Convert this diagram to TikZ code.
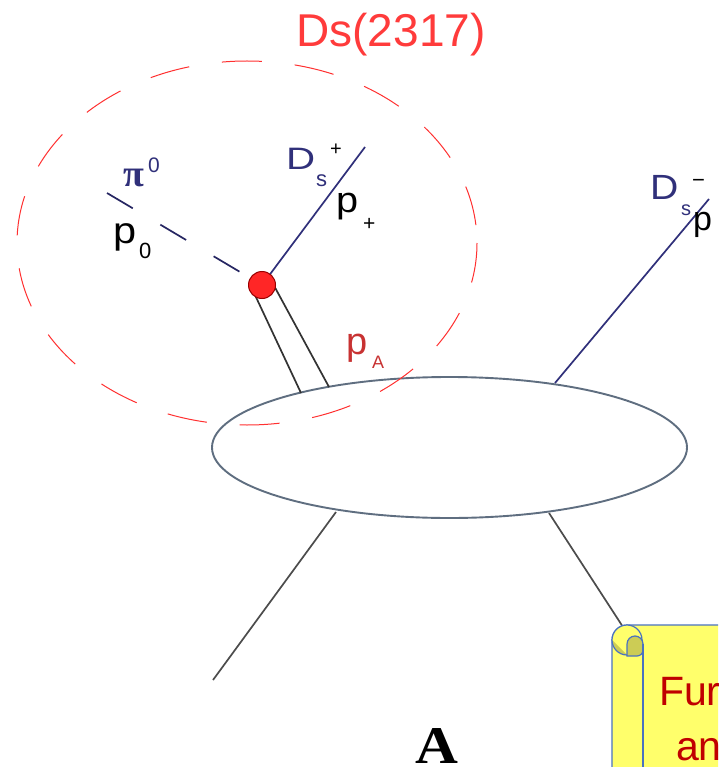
\documentclass[tikz,border=0pt]{standalone}
\usepackage{fontspec}
\usepackage{graphicx}
\setmainfont{Liberation Sans}
\newfontfamily\serifb{Liberation Serif}
\usetikzlibrary{shapes.geometric}
\definecolor{navy}{HTML}{30307A}
\definecolor{titlered}{HTML}{FF3B3B}
\definecolor{dashred}{HTML}{FF3030}
\definecolor{pared}{HTML}{C83232}
\definecolor{blobline}{HTML}{5F6E80}
\definecolor{scrollyellow}{HTML}{FFFF6B}
\definecolor{scrollolive}{HTML}{CCCC55}
\definecolor{scrollblue}{HTML}{4A72C0}
\definecolor{furred}{HTML}{C00000}
\tikzset{
  lbl/.style={anchor=base west, inner sep=0pt, outer sep=0pt},
  fs/.style={font=\fontsize{#1}{#1}\selectfont},
  track/.style={draw=#1, line width=1.7pt},
  blobstyle/.style={ellipse, draw=blobline, line width=1.9pt, fill=white, inner sep=0pt},
  vertex/.style={circle, fill=red!85!white, draw=red!60!black, line width=1pt, minimum size=27pt, inner sep=0pt},
  scrollline/.style={draw=scrollblue, line width=1.2pt}
}
\begin{document}
\begin{tikzpicture}[x=1pt,y=-1pt]
\useasboundingbox (0,0) rectangle (718,767);
\clip (0,0) rectangle (718,767);
\fill[white] (0,0) rectangle (718,767);

% central blob
\node[blobstyle, minimum width=475pt, minimum height=141pt] (blob) at (449.5,447.5) {};

% coordinates
\coordinate (dotc) at (262,285);
\coordinate (pi0end) at (107,193);
\coordinate (dsplusend) at (365,147);
\coordinate (dsminusend) at (709,199);
\coordinate (dsminusstart) at (555,383);
\coordinate (llstart) at (336,512);
\coordinate (llend) at (213,680);
\coordinate (lrstart) at (549,513);
\coordinate (lrend) at (623,627);
\coordinate (dblLa) at (255,295);
\coordinate (dblLb) at (301,393);
\coordinate (dblRa) at (272,282);
\coordinate (dblRb) at (329,387);

% lines
\draw[track=navy!80!black, dash pattern=on 30pt off 32pt] (pi0end) -- (dotc);
\draw[track=navy] (dotc) -- (dsplusend);
\draw[track=navy] (dsminusstart) -- (dsminusend);
\draw[track=black!80] (dblLa) -- (dblLb);
\draw[track=black!80] (dblRa) -- (dblRb);
\draw[track=black!70] (llstart) -- (llend);
\draw[track=black!70] (lrstart) -- (lrend);

% vertex
\node[vertex] (dot) at (dotc) {};

% dashed red ellipse
\draw[dashred, line width=1pt, dash pattern=on 40pt off 33pt] (247,243) ellipse [x radius=230, y radius=182];

% title
\node[anchor=base, inner sep=0pt, text=titlered, fs=46] (title) at (391,47) {Ds(2317)};

% labels
\node[lbl, text=navy, font=\serifb\bfseries\fontsize{38}{38}\selectfont] (pi) at (123,187) {π};
\node[lbl, text=navy, fs=21] (pisup) at (148,173) {0};
\node[lbl, fs=37] (p0) at (113,243) {\scalebox{1.12}[1]{p}};
\node[lbl, fs=22] (p0sub) at (139,258) {0};

\node[lbl, text=navy, fs=31] (dsp) at (286,170) {\scalebox{1.3}[1]{D}};
\node[lbl, text=navy, fs=22] (dsps) at (316,187) {s};
\node[lbl, fs=20] (dspsup) at (330,156) {+};
\node[lbl, fs=36] (pplus) at (336,212) {\scalebox{1.1}[1]{p}};
\node[lbl, fs=21] (pplussub) at (363,230) {+};

\node[lbl, text=navy, fs=35] (dsm) at (650,200) {\scalebox{1.12}[1]{D}};
\node[lbl, text=navy, fs=20] (dsms) at (681,215) {s};
\node[lbl, fs=22] (dsmsup) at (692,188) {−};
\node[lbl, fs=34] (pminus) at (693,230) {p};

\node[lbl, text=pared, fs=38] (pA) at (346,354) {p};
\node[lbl, text=pared, fs=18] (pAsub) at (372,368) {A};

\node[lbl, font=\serifb\bfseries\fontsize{53}{53}\selectfont] (labA) at (415,763) {\scalebox{1.12}[1]{A}};

% scroll
\path[fill=scrollyellow, scrollline] (612,790) -- (612,640) arc[start angle=180, end angle=270, radius=15] -- (740,625) -- (740,790) -- cycle;
\fill[scrollyellow] (627,640) circle[radius=15];
\fill[scrollolive] (612,640) arc[start angle=180, end angle=90, radius=15] -- cycle;
\draw[scrollline] (627,640) circle[radius=15];
\path[fill=scrollolive, scrollline] (627,656) -- (627,644) arc[start angle=180, end angle=360, radius=8] -- (643,650) arc[start angle=0, end angle=90, radius=6] -- cycle;
\draw[scrollline] (643,644) -- (643,790);

\node[lbl, text=furred, fs=41] (fur) at (659,705) {Fur};
\node[lbl, text=furred, fs=41] (an) at (676,760) {an};
\end{tikzpicture}
\end{document}
